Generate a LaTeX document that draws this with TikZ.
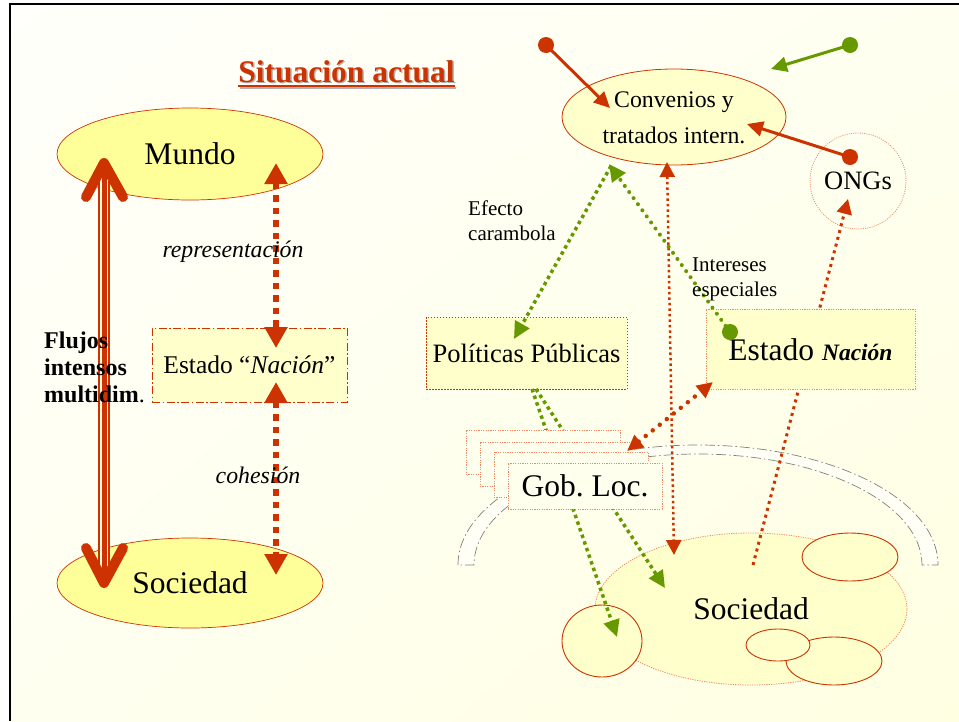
\documentclass[tikz,border=0pt]{standalone}
\usepackage{fontspec}
\setmainfont{Liberation Serif}
\usetikzlibrary{arrows.meta,shapes.geometric,shadings}
\definecolor{myred}{HTML}{CC3300}
\definecolor{mygreen}{HTML}{669900}
\definecolor{yel}{HTML}{FFFF99}
\definecolor{pale}{HTML}{FFFFCC}
\definecolor{paler}{HTML}{FFFFEE}
\definecolor{bgA}{HTML}{FFFFFB}
\definecolor{bgB}{HTML}{FFFFF0}
\definecolor{bgC}{HTML}{FFFFE2}
\definecolor{archfill}{HTML}{FFFFF6}
\definecolor{lred}{HTML}{EE8866}
\definecolor{archgray}{HTML}{808080}
\definecolor{stripe}{HTML}{FFFFE0}
\newcommand\FsBig{\fontsize{31.5}{36}\selectfont}
\newcommand\FsMid{\fontsize{26.5}{30}\selectfont}
\newcommand\FsEst{\fontsize{25.5}{30}\selectfont}
\newcommand\FsConv{\fontsize{23.8}{28}\selectfont}
\newcommand\FsLab{\fontsize{21}{25}\selectfont}
\newcommand\FsIt{\fontsize{23.8}{28}\selectfont\itshape}
\tikzset{
  bigT/.tip={Triangle[width=22pt,length=21pt]},
  redT/.tip={Triangle[width=15pt,length=16pt]},
  greenT/.tip={Triangle[width=16pt,length=17pt]},
  dotT/.tip={Triangle[width=15pt,length=15pt]},
}
\frenchspacing
\begin{document}
\begin{tikzpicture}[x=1pt,y=-1pt,
  bigell/.style={ellipse, draw=myred, line width=0.7pt, fill=yel, inner sep=0pt, font=\FsBig},
  txt/.style={inner sep=0pt, anchor=base},
  thickdash/.style={draw=myred, line width=6pt, dash pattern=on 6.5pt off 6pt, bigT-bigT},
  solidred/.style={draw=myred, line width=3pt, -redT},
  solidgreen/.style={draw=mygreen, line width=3pt, -redT},
  greendot/.style={draw=mygreen, line width=4pt, dash pattern=on 0pt off 7.5pt, line cap=round},
  greensq/.style={draw=mygreen, line width=3.5pt, dash pattern=on 3.5pt off 3.5pt},
  reddotv/.style={draw=myred, line width=2.5pt, dash pattern=on 2.5pt off 3pt},
  redsq/.style={draw=myred, line width=3pt, dash pattern=on 3pt off 4pt},
  redround/.style={draw=myred, line width=4.5pt, dash pattern=on 0pt off 9pt, line cap=round},
  dotbox/.style={rectangle, draw=myred, line width=0.9pt, dash pattern=on 1.5pt off 1.5pt, fill=pale, inner sep=0pt},
  lightbox/.style={rectangle, draw=lred, line width=0.8pt, dash pattern=on 1.2pt off 1.2pt, inner sep=0pt},
  smallell/.style={ellipse, draw=myred, line width=0.9pt, fill=pale, inner sep=0pt},
  dot/.style={circle, inner sep=0pt, minimum size=16pt},
]
\useasboundingbox (0,0) rectangle (959,721);
% background
\shade[upper left=bgA, upper right=bgB, lower left=bgB, lower right=bgC] (10,4) rectangle (959,721);
\draw[line width=2.5pt] (10,721) -- (10,4) -- (959,4);

% ---------- title ----------
\node[txt, font=\bfseries\FsBig, text=gray!60] (titleshadow) at (348,83.5) {Situación actual};
\node[txt, font=\bfseries\FsBig, text=myred] (title) at (346.5,82) {Situación actual};
\draw[gray!60, line width=2pt] ([xshift=1.5pt,yshift=-5.5pt]title.base west) -- ([xshift=1.5pt,yshift=-5.5pt]title.base east);
\draw[myred, line width=2pt] ([yshift=-4pt]title.base west) -- ([yshift=-4pt]title.base east);

% ---------- left side ----------
\node[bigell, minimum width=266pt, minimum height=92pt] (mundo) at (190,154) {Mundo};
\node[bigell, minimum width=266pt, minimum height=90pt] (soc) at (190,583) {Sociedad};
\node[rectangle, draw=myred, line width=0.9pt, dash pattern=on 8pt off 2.5pt on 1.5pt off 2.5pt, fill=pale, inner sep=0pt, minimum width=195pt, minimum height=74pt, font=\FsEst] (estL) at (249.5,365) {Estado “\textit{Nación}”};

% big triple arrow
\coordinate (flT) at (104,163);
\coordinate (flB) at (104,583);
\draw[myred, line width=11.5pt] (flT) -- (flB);
\draw[stripe, line width=8.5pt] (flT) -- (flB);
\draw[myred, line width=5pt] (flT) -- (flB);
\draw[myred, line width=10pt, line cap=round, line join=round] (86,197) -- (flT) -- (123,197);
\draw[myred, line width=10pt, line cap=round, line join=round] (86,548) -- (flB) -- (123,548);

% dashed arrows
\coordinate (repT) at (276,163);
\coordinate (repB) at (276,348);
\coordinate (cohT) at (276,382);
\coordinate (cohB) at (276,575);
\draw[thickdash] (repT) -- (repB);
\draw[thickdash] (cohT) -- (cohB);
\node[txt, font=\FsIt] (rep) at (233,257) {representación};
\node[txt, font=\FsIt] (coh) at (258,483) {cohesión};

\node[txt, anchor=base west, font=\bfseries\fontsize{24}{27}\selectfont] (flu1) at (44,348) {Flujos};
\node[txt, anchor=base west, font=\bfseries\fontsize{24}{27}\selectfont] (flu2) at (44,375) {intensos};
\node[txt, anchor=base west, font=\fontsize{24}{27}\selectfont] (flu3) at (44,402) {\textbf{multidim}.};

% ---------- right side ----------
% arch
\filldraw[fill=archfill, draw=archgray, line width=0.7pt, dash pattern=on 10pt off 3pt on 1.5pt off 3pt]
  (458,565) arc[start angle=180, end angle=360, x radius=240, y radius=120]
  -- (922,565) arc[start angle=0, end angle=-180, x radius=224, y radius=111] -- cycle;

% Sociedad (right)
\node[ellipse, draw=lred, line width=0.8pt, dash pattern=on 1.2pt off 1.2pt, fill=pale, inner sep=0pt, minimum width=312pt, minimum height=152pt, font=\FsBig] (socR) at (751,609) {Sociedad};
\node[smallell, minimum width=80pt, minimum height=72pt] (c1) at (602,641) {};
\node[smallell, minimum width=96pt, minimum height=48pt] (e2) at (850,557) {};
\node[smallell, minimum width=96pt, minimum height=48pt] (e3) at (834,661) {};
\node[smallell, minimum width=64pt, minimum height=32pt] (e4) at (778,645) {};

% Convenios
\node[ellipse, draw=myred, line width=0.8pt, fill=pale, inner sep=0pt, minimum width=224pt, minimum height=96pt] (conv) at (674,117) {};
\node[txt, font=\FsConv] (conv1) at (674,107) {Convenios y};
\node[txt, font=\FsConv] (conv2) at (674,143) {tratados intern.};

% ONGs
\node[circle, draw=lred, line width=0.8pt, dash pattern=on 1pt off 1.2pt, inner sep=0pt, minimum size=96pt, font=\FsMid] (ong) at (858,181) {ONGs};

% Politicas
\node[dotbox, minimum width=201pt, minimum height=72pt, font=\FsMid] (pol) at (526.5,353) {Políticas Públicas};

% green lines Politicas -> Sociedad (behind Gob. Loc.)
\coordinate (polA) at (532,389);
\coordinate (polB) at (536,389);
\coordinate (tipA) at (617,637);
\coordinate (tipB) at (665,588);
\draw[greensq, -greenT] (polA) -- (tipA);
\draw[greensq, -greenT] (polB) -- (tipB);

% red dotted line Sociedad -> ONGs (behind Estado box)
\coordinate (ongS) at (753,565);
\coordinate (ongT) at (848,199);
\draw[redsq, -dotT] (ongS) -- (ongT);

% Estado Nacion (right)
\node[lightbox, fill=pale, minimum width=209pt, minimum height=80pt] (estR) at (810.5,349) {};
\node[txt, font=\FsBig] (estRt) at (810.5,360) {Estado \textbf{\textit{\fontsize{23.5}{28}\selectfont Nación}}};

% Gob. Loc. stack
\node[lightbox, fill=paler, minimum width=154pt, minimum height=44pt] (g1) at (543,452) {};
\node[lightbox, fill=paler, minimum width=154pt, minimum height=44pt] (g2) at (557,464) {};
\node[lightbox, fill=paler, minimum width=154pt, minimum height=45pt] (g3) at (571,474.5) {};
\node[lightbox, fill=paler, minimum width=154pt, minimum height=46pt, font=\FsBig] (gob) at (585,486) {Gob. Loc.};

% red dotted vertical Convenios <-> Sociedad
\coordinate (vT) at (667,162);
\coordinate (vB) at (674,555);
\draw[reddotv, dotT-dotT] (vT) -- (vB);

% red dotted Estado <-> Gob. Loc.
\coordinate (egA) at (627,451);
\coordinate (egB) at (713,382);
\draw[redround, redT-redT] (egA) -- (egB);

% green dotted arrows
\coordinate (efT) at (611,166);
\coordinate (efB) at (514,339);
\draw[greensq, -greenT] (efT) -- (efB);
\node[dot, fill=mygreen] (gd2) at (730,332) {};
\coordinate (intT) at (609,164);
\draw[greendot, -greenT] (gd2.center) -- (intT);

% solid arrows at top
\node[dot, fill=myred] (rd1) at (546,45) {};
\node[dot, fill=mygreen] (gd1) at (850,45) {};
\node[dot, fill=myred] (rd2) at (850,157) {};
\coordinate (t1) at (610,108);
\coordinate (t2) at (771,69);
\coordinate (t3) at (747,124);
\draw[solidred] (rd1.center) -- (t1);
\draw[solidgreen] (gd1.center) -- (t2);
\draw[solidred] (rd2.center) -- (t3);

% labels
\node[txt, anchor=base west, font=\FsLab] (ef1) at (468,215) {Efecto};
\node[txt, anchor=base west, font=\FsLab] (ef2) at (468,240) {carambola};
\node[txt, anchor=base west, font=\FsLab] (in1) at (692,271) {Intereses};
\node[txt, anchor=base west, font=\FsLab] (in2) at (692,296) {especiales};
\end{tikzpicture}
\end{document}
